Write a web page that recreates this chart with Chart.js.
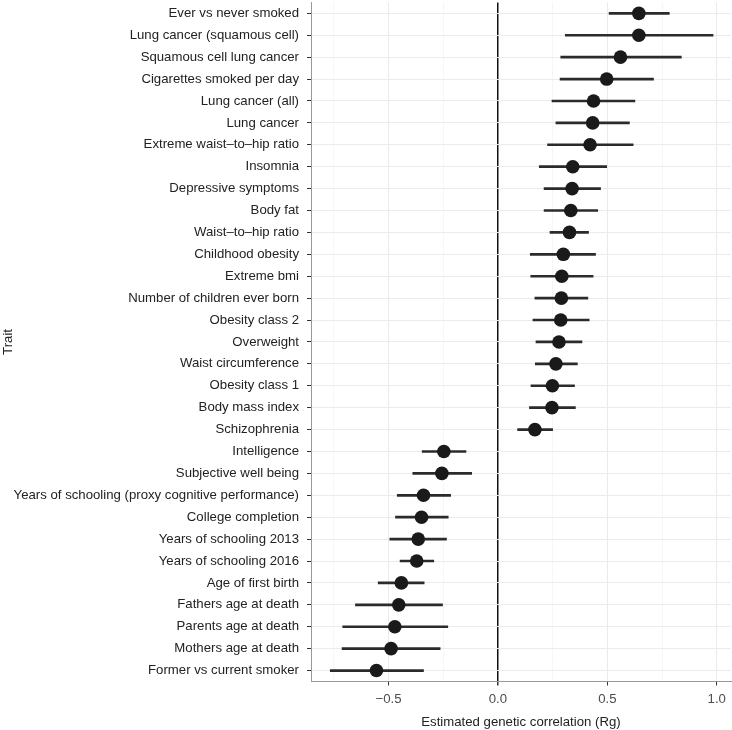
<!DOCTYPE html>
<html>
<head>
<meta charset="utf-8">
<script src="https://cdn.jsdelivr.net/npm/chart.js@4/dist/chart.umd.min.js"></script>
<style>
  html, body { margin: 0; padding: 0; background: #fff; }
  #wrap { width: 732px; height: 730px; }
</style>
</head>
<body>
<div id="wrap"><canvas id="myChart" width="732" height="730"></canvas></div>
<script>
const traits = [
  'Ever vs never smoked', 'Lung cancer (squamous cell)', 'Squamous cell lung cancer',
  'Cigarettes smoked per day', 'Lung cancer (all)', 'Lung cancer',
  'Extreme waist\u2013to\u2013hip ratio', 'Insomnia', 'Depressive symptoms', 'Body fat',
  'Waist\u2013to\u2013hip ratio', 'Childhood obesity', 'Extreme bmi',
  'Number of children ever born', 'Obesity class 2', 'Overweight',
  'Waist circumference', 'Obesity class 1', 'Body mass index', 'Schizophrenia',
  'Intelligence', 'Subjective well being', 'Years of schooling (proxy cognitive performance)',
  'College completion', 'Years of schooling 2013', 'Years of schooling 2016',
  'Age of first birth', 'Fathers age at death', 'Parents age at death',
  'Mothers age at death', 'Former vs current smoker'
];

const rg = [
  0.644, 0.644, 0.560, 0.497, 0.437, 0.433, 0.421, 0.342, 0.339, 0.333,
  0.327, 0.299, 0.292, 0.290, 0.287, 0.279, 0.265, 0.249, 0.247, 0.169,
  -0.247, -0.256, -0.340, -0.349, -0.364, -0.371, -0.441, -0.453, -0.471,
  -0.488, -0.555
];

const lower = [
  0.508, 0.308, 0.287, 0.284, 0.247, 0.265, 0.227, 0.189, 0.211, 0.211,
  0.238, 0.148, 0.150, 0.169, 0.160, 0.174, 0.171, 0.151, 0.144, 0.090,
  -0.346, -0.389, -0.460, -0.468, -0.494, -0.447, -0.547, -0.651, -0.709,
  -0.712, -0.766
];

const upper = [
  0.783, 0.983, 0.838, 0.711, 0.626, 0.601, 0.618, 0.497, 0.469, 0.456,
  0.414, 0.446, 0.435, 0.411, 0.417, 0.384, 0.363, 0.350, 0.354, 0.250,
  -0.146, -0.120, -0.216, -0.227, -0.235, -0.293, -0.337, -0.253, -0.229,
  -0.264, -0.340
];

const xTicks = [-0.75, -0.5, -0.25, 0, 0.25, 0.5, 0.75, 1.0];
const xLabels = { '-0.5': '\u22120.5', '0': '0.0', '0.5': '0.5', '1': '1.0' };

const isMajor = v => Math.abs(v * 2 - Math.round(v * 2)) < 1e-9;
const font = { family: "'Liberation Sans', Arial, sans-serif", size: 13.2 };

new Chart(document.getElementById('myChart').getContext('2d'), {
  data: {
    labels: traits,
    datasets: [
      {
        type: 'line',
        data: rg,
        showLine: false,
        pointRadius: 6.8,
        pointBackgroundColor: '#1a1a1a',
        pointBorderWidth: 0,
        order: 0
      },
      {
        type: 'bar',
        data: traits.map((t, i) => [lower[i], upper[i]]),
        backgroundColor: '#2b2b2b',
        borderWidth: 0,
        barThickness: 2,
        order: 1
      }
    ]
  },
  options: {
    indexAxis: 'y',
    responsive: false,
    animation: false,
    layout: { autoPadding: false, padding: { top: 2.4, right: 1, left: 0, bottom: 0 } },
    plugins: { legend: { display: false }, tooltip: { enabled: false } },
    scales: {
      x: {
        type: 'linear',
        min: -0.854,
        max: 1.065,
        afterBuildTicks: scale => { scale.ticks = xTicks.map(v => ({ value: v })); },
        afterFit: scale => {
          scale.height = 48.5;
          scale.paddingLeft = 0;
          scale.paddingRight = 0;
        },
        border: { color: '#999', width: 1 },
        grid: {
          color: ctx => ctx.tick.value === 0 ? '#111' : (isMajor(ctx.tick.value) ? '#EBEBEB' : '#F6F6F6'),
          lineWidth: ctx => ctx.tick.value === 0 ? 1.5 : 1,
          tickColor: ctx => isMajor(ctx.tick.value) ? '#333' : 'rgba(0,0,0,0)',
          tickLength: 4
        },
        ticks: {
          color: '#4d4d4d',
          font: font,
          padding: 6,
          maxRotation: 0,
          autoSkip: false,
          callback: v => xLabels[String(v)] || ''
        },
        title: {
          display: true,
          text: 'Estimated genetic correlation (Rg)',
          color: '#222',
          font: font,
          padding: { top: 9, bottom: 0 }
        }
      },
      y: {
        type: 'category',
        offset: true,
        z: -1,
        afterFit: scale => {
          scale.width = 311;
          scale.paddingTop = 0;
          scale.paddingBottom = 0;
        },
        border: { color: '#999', width: 1 },
        grid: {
          offset: false,
          color: '#EBEBEB',
          lineWidth: 1,
          tickColor: '#333',
          tickLength: 4
        },
        ticks: {
          color: '#222',
          font: font,
          padding: 8,
          autoSkip: false
        },
        title: {
          display: true,
          text: 'Trait',
          color: '#222',
          font: font,
          padding: { top: 0, bottom: 0 }
        }
      }
    }
  }
});
</script>
</body>
</html>
